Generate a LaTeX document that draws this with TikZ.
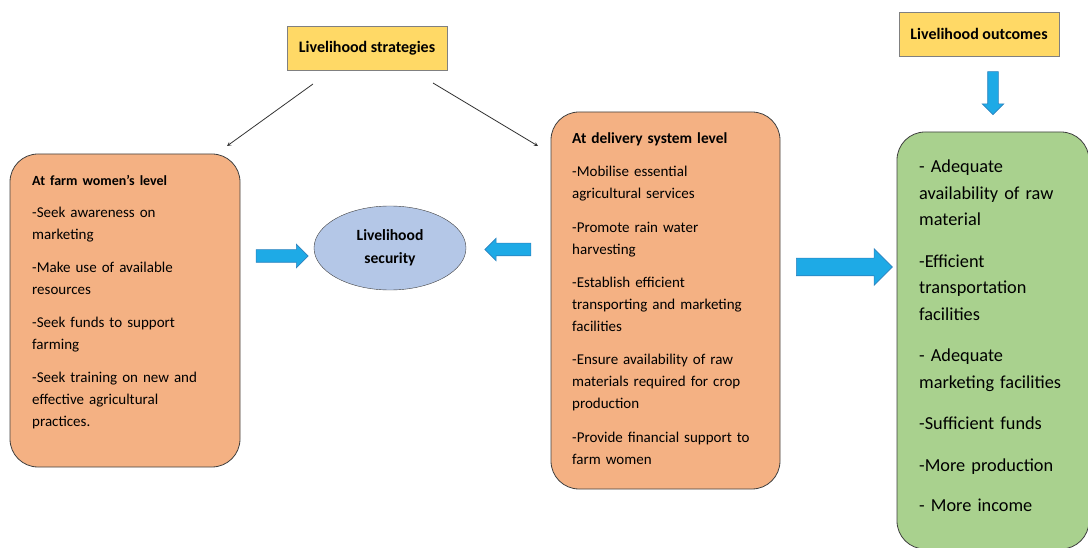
\documentclass[tikz,border=0pt]{standalone}
\usepackage{fontspec}
\setmainfont{Carlito}
\usepackage{xcolor}
\usetikzlibrary{shapes.geometric, shapes.arrows}

\definecolor{levelorange}{RGB}{244,177,131}
\definecolor{outcomegreen}{RGB}{169,209,142}
\definecolor{securityblue}{RGB}{180,199,231}
\definecolor{titleyellow}{RGB}{255,217,102}
\definecolor{arrowblue}{RGB}{30,170,230}
\definecolor{arrowrim}{RGB}{45,130,190}
\definecolor{rimgray}{RGB}{64,64,64}

\begin{document}
\begin{tikzpicture}[x=1pt, y=-1pt]
            \tikzstyle{Title} = [draw=gray, fill=titleyellow, minimum width=160pt, minimum height=44pt, inner sep=0pt, font=\bfseries\fontsize{16}{19}\selectfont]
            \tikzstyle{Level Box} = [draw=rimgray, thick, rounded corners=28pt, fill=#1]
            \tikzstyle{Level Text} = [anchor=base west, inner sep=0pt, align=left, font=\fontsize{15}{22}\selectfont]
            \tikzstyle{Block} = [single arrow, draw=arrowrim, fill=arrowblue, line width=0.6pt, minimum height=#1]
            \tikzstyle{Thin} = [draw=black!80, line width=0.8pt, ->, >=stealth]
            \useasboundingbox (0,0) rectangle (1088,548);

            \node[Title] (strategies) at (367,48) {Livelihood strategies};
            \node[Title] (outcomes) at (979,34) {Livelihood outcomes};

            \node[Level Box=levelorange, minimum width=230pt, minimum height=313pt] (farm) at (125,310.5) {};
            \node[Level Text, text width=205pt] (farm text) at (32,186) {%
                {\bfseries\fontsize{14}{22}\selectfont At farm women’s level}\\[10pt]
                -Seek awareness on\\ marketing\\[11pt]
                -Make use of available\\ resources\\[11pt]
                -Seek funds to support\\ farming\\[11pt]
                -Seek training on new and\\ effective agricultural\\ practices.};

            \node[Level Box=levelorange, minimum width=229pt, minimum height=377pt] (delivery) at (665.5,300.5) {};
            \node[Level Text, text width=205pt] (delivery text) at (572,144) {%
                {\bfseries\fontsize{15.4}{22}\selectfont At delivery system level}\\[11pt]
                -Mobilise essential\\ agricultural services\\[12pt]
                -Promote rain water\\ harvesting\\[11pt]
                -Establish efficient\\ transporting and marketing\\ facilities\\[11pt]
                -Ensure availability of raw\\ materials required for crop\\ production\\[12pt]
                -Provide financial support to\\ farm women};

            \node[Level Box=outcomegreen, minimum width=192pt, minimum height=417pt] (result) at (993,340.5) {};
            \node[Level Text, text width=170pt, font=\fontsize{18.3}{26.5}\selectfont] (result text) at (919,173) {%
                - Adequate\\ availability of raw\\ material\\[15pt]
                -Efficient\\ transportation\\ facilities\\[15pt]
                - Adequate\\ marketing facilities\\[15pt]
                -Sufficient funds\\[15pt]
                -More production\\[14pt]
                - More income};

            \node[ellipse, draw=rimgray, fill=securityblue, minimum width=152pt, minimum height=84pt, align=center,
                  font=\bfseries\fontsize{15.6}{23}\selectfont] (security) at (390,248) {Livelihood\\ security};

            \node[Block=52pt, inner sep=6pt, single arrow head extend=5.5pt] (farm arrow) at (279,256) {};
            \node[Block=46pt, inner sep=6pt, single arrow head extend=5pt, shape border rotate=180] (delivery arrow) at (511,249.5) {};
            \node[Block=96pt, inner sep=8.5pt, single arrow head extend=9.5pt] (result arrow) at (840,267) {};
            \node[Block=43pt, inner sep=5pt, single arrow head extend=5.5pt, shape border rotate=270] (outcome arrow) at (993,90.5) {};

            \coordinate (left start) at (313,84);
            \coordinate (left end) at (227,146);
            \coordinate (right start) at (433,83);
            \coordinate (right end) at (538,146);
            \draw[Thin] (left start) -- (left end);
            \draw[Thin] (right start) -- (right end);
        \end{tikzpicture}
\end{document}
